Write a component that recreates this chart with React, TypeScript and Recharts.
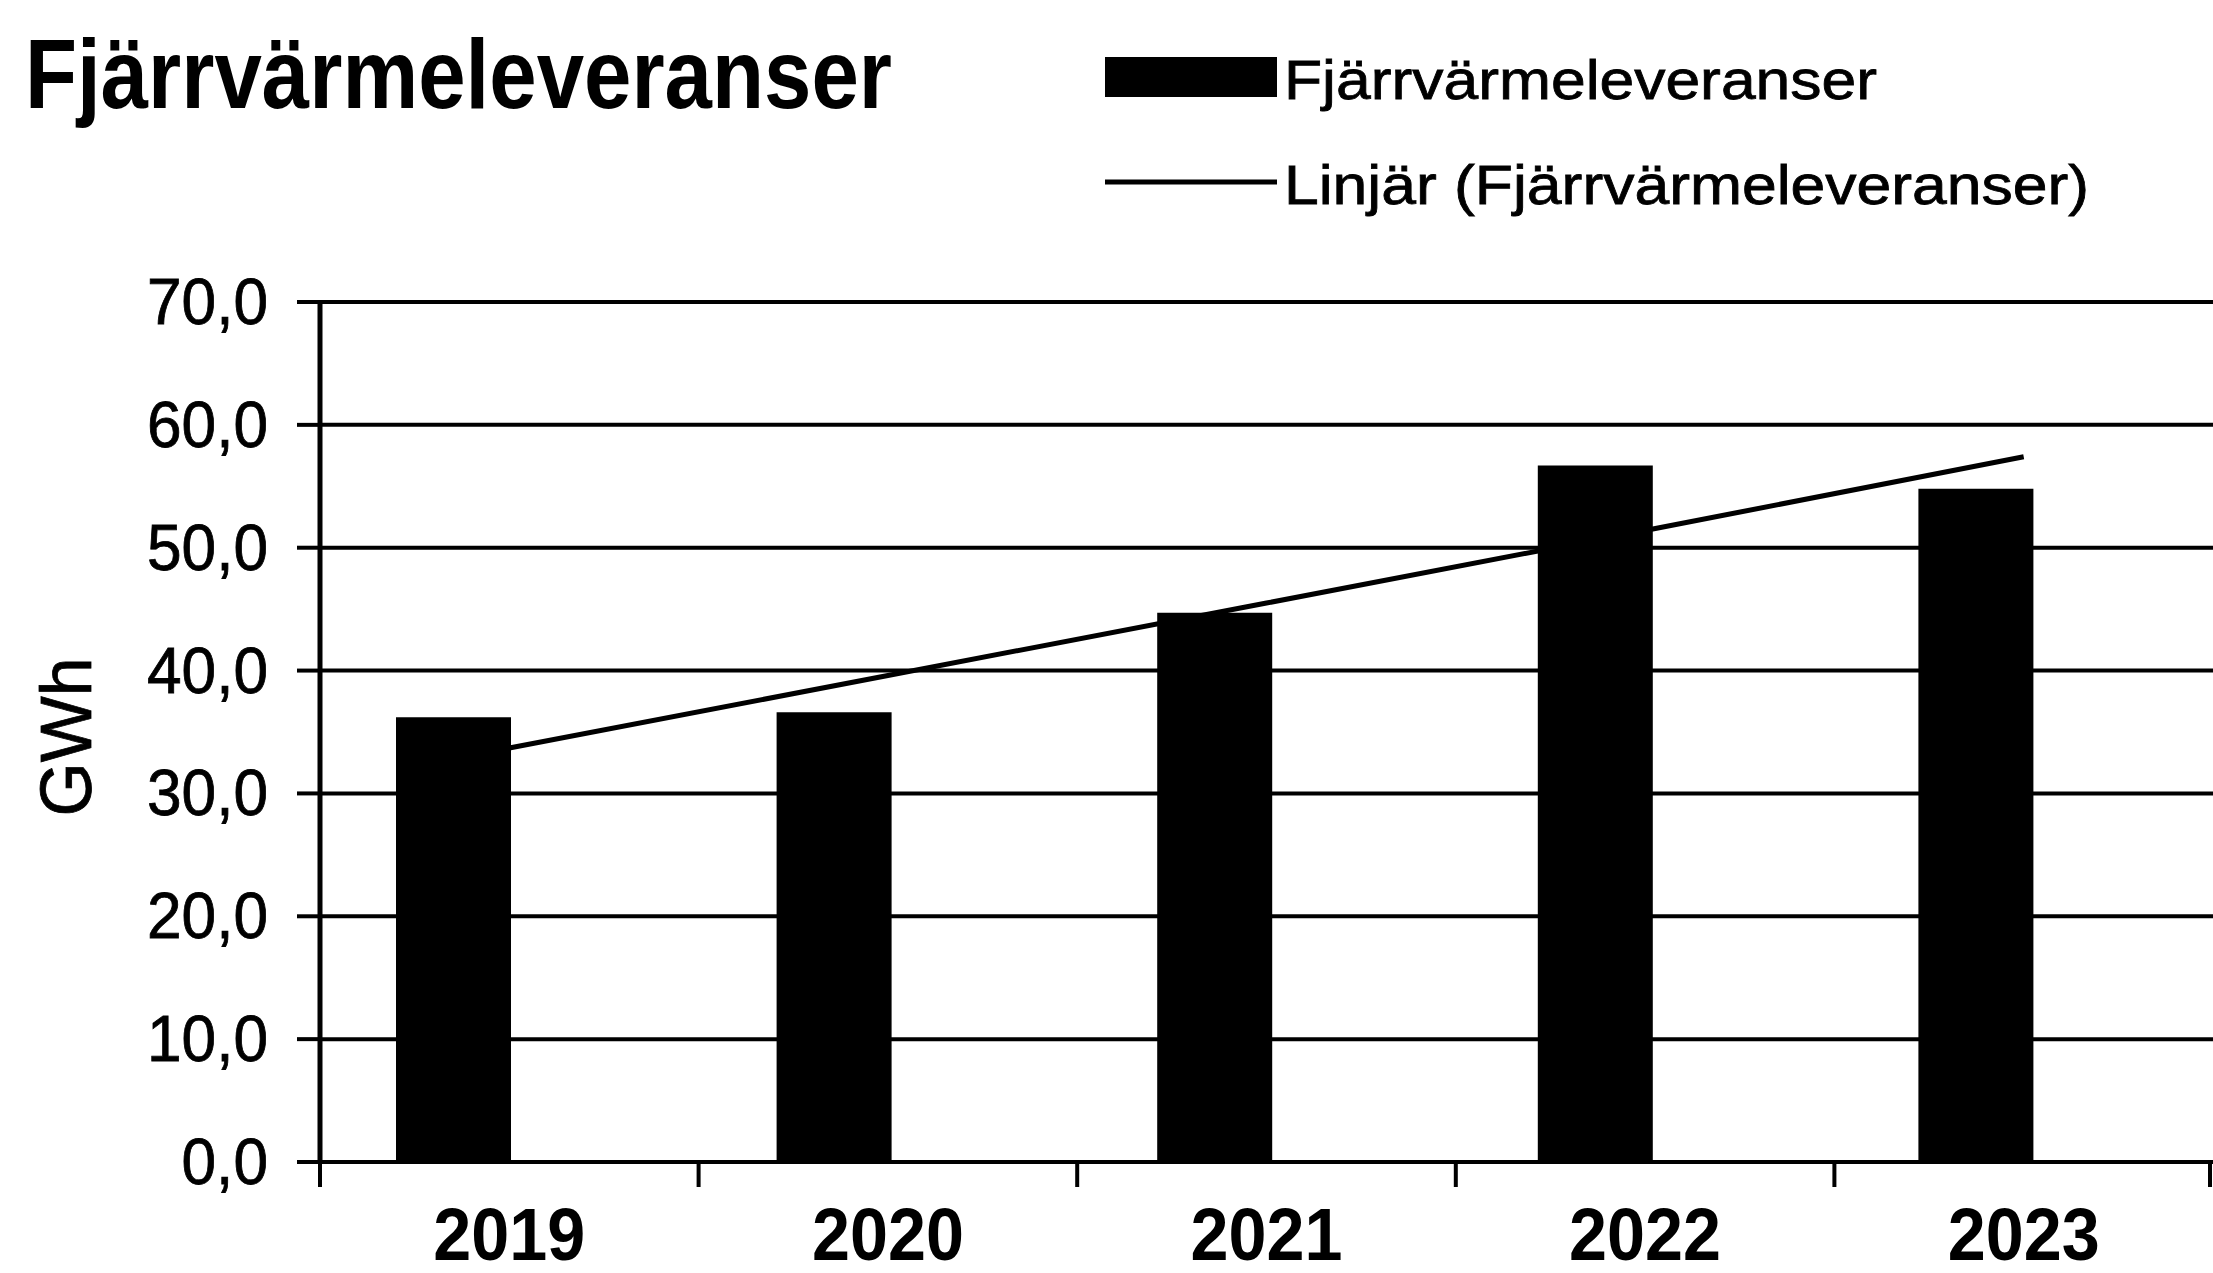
import {
  ComposedChart, Bar, Line, XAxis, YAxis, CartesianGrid, Legend, Label,
} from "recharts";

const years = ["2019", "2020", "2021", "2022", "2023"];
const deliveries = [36.2, 36.6, 44.7, 56.7, 54.8];
// trend line as it is drawn in the picture, read at each year
const trend = [33.7, 39.6, 45.5, 51.4, 57.4];
const yTicks = [0, 10, 20, 30, 40, 50, 60, 70];

const data = years.map((year, i) => ({
  year,
  deliveries: deliveries[i],
  trend: trend[i],
}));

const FONT = '"Liberation Sans", Arial, sans-serif';
const INK = "#000";

// rough Arial advance widths, used to squeeze labels like the scanned original
const emWidth = (s: string) =>
  [...s].reduce((sum, c) => sum + (c === "," ? 0.278 : 0.556), 0);

function YTick({ x, y, payload }: any) {
  const label = Number(payload.value).toFixed(1).replace(".", ",");
  return (
    <text
      x={x} y={y} textAnchor="end" dominantBaseline="central"
      fontSize={64} fontFamily={FONT} fill={INK} stroke={INK} strokeWidth={0.8}
      textLength={emWidth(label) * 62.2} lengthAdjust="spacingAndGlyphs"
    >
      {label}
    </text>
  );
}

function XTick({ x, y, payload, index }: any) {
  const half = payload.offset ?? 0;
  const last = index === years.length - 1;
  return (
    <g>
      <line x1={x - half} x2={x - half} y1={y} y2={y + 25} stroke={INK} strokeWidth={4} />
      {last && <line x1={x + half - 3} x2={x + half - 3} y1={y} y2={y + 25} stroke={INK} strokeWidth={4} />}
      <text
        x={x} y={y + 98} textAnchor="middle"
        fontSize={74} fontWeight="bold" fontFamily={FONT} fill={INK}
        textLength={152} lengthAdjust="spacingAndGlyphs"
      >
        {payload.value}
      </text>
    </g>
  );
}

function GwhLabel({ viewBox }: any) {
  const cx = (viewBox?.x ?? 0) + 66;
  const cy = (viewBox?.y ?? 0) + (viewBox?.height ?? 0) / 2 + 5;
  return (
    <text
      x={cx} y={cy} transform={`rotate(-90 ${cx} ${cy})`}
      textAnchor="middle" dominantBaseline="central"
      fontSize={72} fontFamily={FONT} fill={INK} stroke={INK} strokeWidth={0.8}
      textLength={159} lengthAdjust="spacingAndGlyphs"
    >
      GWh
    </text>
  );
}

const legendTextLength: Record<string, number> = { rect: 593, line: 805 };

function LegendContent({ payload }: any) {
  const items = [...(payload ?? [])].sort((a: any) => (a.type === "rect" ? -1 : 1));
  return (
    <svg width={1000} height={200}>
      {items.map((item: any, i: number) => {
        const top = i * 105;
        return (
          <g key={item.value}>
            {item.type === "rect" ? (
              <rect x={5} y={top + 17} width={172} height={40} fill={INK} />
            ) : (
              <line x1={5} x2={177} y1={top + 37} y2={top + 37} stroke={INK} strokeWidth={5} />
            )}
            <text
              x={184} y={top + 59} fontSize={56} fontFamily={FONT} fill={INK}
              stroke={INK} strokeWidth={0.8}
              textLength={legendTextLength[item.type] ?? 600} lengthAdjust="spacingAndGlyphs"
            >
              {item.value}
            </text>
          </g>
        );
      })}
    </svg>
  );
}

export default function App() {
  return (
    <div style={{ position: "absolute", left: 0, top: 0, width: 2213, height: 1273, background: "#fff" }}>
      <svg width={1000} height={140} style={{ position: "absolute", left: 0, top: 0 }}>
        <text
          x={25} y={108} fontSize={98} fontWeight="bold" fontFamily={FONT} fill={INK}
          textLength={867} lengthAdjust="spacingAndGlyphs"
        >
          Fjärrvärmeleveranser
        </text>
      </svg>
      <ComposedChart
        width={2213}
        height={1273}
        data={data}
        margin={{ top: 302, right: 0, bottom: 0, left: 0 }}
      >
        <CartesianGrid xAxisId="trend" vertical={false} stroke={INK} strokeWidth={4} />
        <XAxis xAxisId="bars" dataKey="year" hide height={0} padding={{ left: -57, right: 47 }} />
        <XAxis
          xAxisId="trend" dataKey="year" height={111} interval={0}
          axisLine={{ stroke: INK, strokeWidth: 4 }} tickLine={false} tickSize={0} tickMargin={0}
          tick={<XTick />}
        />
        <YAxis
          width={320} domain={[0, 70]} ticks={yTicks} interval={0}
          tickSize={23} tickMargin={29}
          axisLine={{ stroke: INK, strokeWidth: 5 }}
          tickLine={{ stroke: INK, strokeWidth: 4 }}
          tick={<YTick />}
        >
          <Label content={<GwhLabel />} />
        </YAxis>
        <Legend
          layout="vertical" align="center" verticalAlign="middle"
          wrapperStyle={{ left: 1100, top: 40, width: 1000, height: 200 }}
          content={<LegendContent />}
        />
        <Line
          xAxisId="trend" dataKey="trend" name="Linjär (Fjärrvärmeleveranser)"
          type="linear" stroke={INK} strokeWidth={5} dot={false}
          legendType="line" isAnimationActive={false} zIndex={250}
        />
        <Bar
          xAxisId="bars" dataKey="deliveries" name="Fjärrvärmeleveranser"
          fill={INK} barSize={115} legendType="rect" isAnimationActive={false}
        />
      </ComposedChart>
    </div>
  );
}
